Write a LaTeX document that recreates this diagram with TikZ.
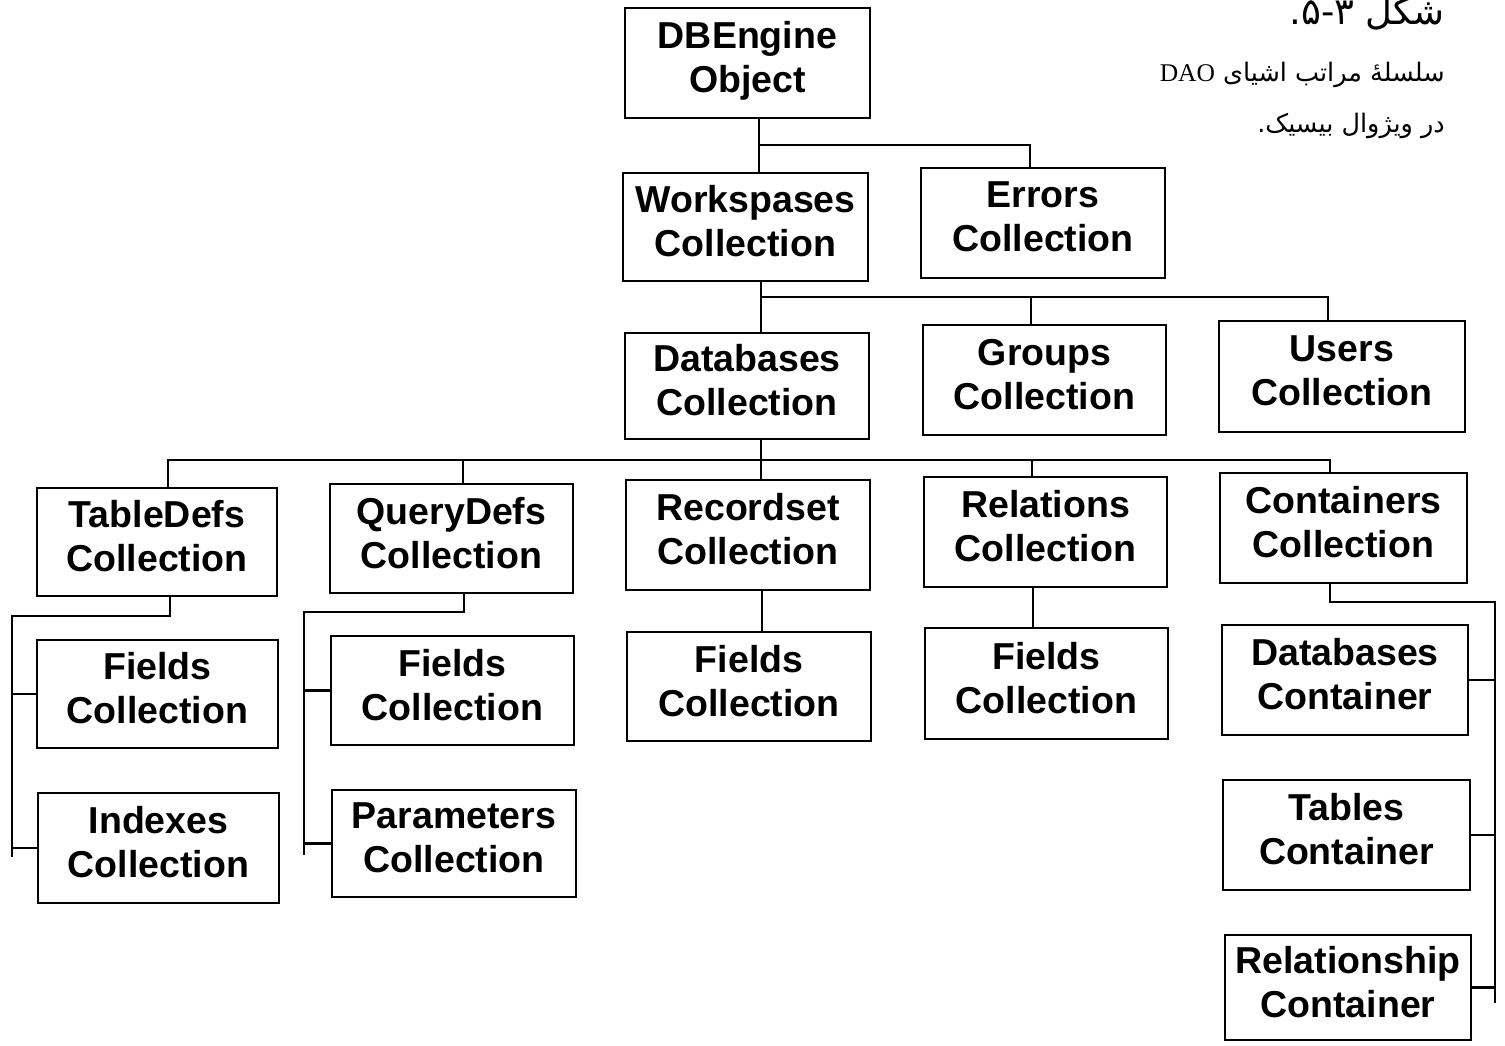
\documentclass[tikz,border=0pt]{standalone}
\usepackage{fontspec}
\setmainfont{Liberation Sans}
\newfontfamily\farsi[Script=Arabic]{DejaVu Sans}
\newfontfamily\latinserif{Liberation Serif}
\TeXXeTstate=1
\begin{document}
\begin{tikzpicture}[x=1pt,y=-1pt,
  box/.style={draw,line width=2.6pt,inner sep=0pt,align=center,text depth=12pt,
    font=\fontsize{37.5}{44}\selectfont\bfseries},
  conn/.style={line width=2.6pt},
  fa/.style={anchor=base east,inner sep=0pt}]
\useasboundingbox (0,0) rectangle (1505,1045);

% level 1-3
\node[box,minimum width=245pt,minimum height=110pt] (dbe) at (747.5,63) {DBEngine\\Object};
\node[box,minimum width=245pt,minimum height=108pt] (ws) at (745.5,227) {Workspases\\Collection};
\node[box,minimum width=244pt,minimum height=110pt] (err) at (1043,223) {Errors\\Collection};
\node[box,minimum width=244pt,minimum height=106pt] (db) at (747,386) {Databases\\Collection};
\node[box,minimum width=243pt,minimum height=110pt] (grp) at (1044.5,380) {Groups\\Collection};
\node[box,minimum width=246pt,minimum height=111pt] (usr) at (1342,376.5) {Users\\Collection};

% level 4
\node[box,minimum width=240pt,minimum height=108pt] (td) at (157,542) {TableDefs\\Collection};
\node[box,minimum width=243pt,minimum height=109pt] (qd) at (451.5,538.5) {QueryDefs\\Collection};
\node[box,minimum width=244pt,minimum height=110pt] (rs) at (748,535) {Recordset\\Collection};
\node[box,minimum width=243pt,minimum height=110pt] (rel) at (1045.5,532) {Relations\\Collection};
\node[box,minimum width=247pt,minimum height=110pt] (cont) at (1343.5,528) {Containers\\Collection};

% level 5+
\node[box,minimum width=241pt,minimum height=108pt] (f1) at (157.5,694) {Fields\\Collection};
\node[box,minimum width=241pt,minimum height=110pt] (idx) at (158.5,848) {Indexes\\Collection};
\node[box,minimum width=243pt,minimum height=109pt] (f2) at (452.5,690.5) {Fields\\Collection};
\node[box,minimum width=244pt,minimum height=107pt] (par) at (454,843.5) {Parameters\\Collection};
\node[box,minimum width=244pt,minimum height=109pt] (f3) at (749,686.5) {Fields\\Collection};
\node[box,minimum width=243pt,minimum height=111pt] (f4) at (1046.5,683.5) {Fields\\Collection};
\node[box,minimum width=246pt,minimum height=110pt] (dbc) at (1345,680) {Databases\\Container};
\node[box,minimum width=247pt,minimum height=110pt] (tbc) at (1346.5,835) {Tables\\Container};
\node[box,minimum width=246pt,minimum height=105pt] (rlc) at (1348,987.5) {Relationship\\Container};

% connectors: DBEngine
\coordinate (j1) at (759,145);
\coordinate (j1r) at (1030,145);
\draw[conn] (j1 |- dbe.south) -- (j1 |- ws.north);
\draw[conn] (j1) -- (j1r) -- (j1r |- err.north);

% Workspaces
\coordinate (j2) at (761,297);
\coordinate (j2m) at (1031,297);
\coordinate (j2r) at (1328,297);
\draw[conn] (j2 |- ws.south) -- (j2 |- db.north);
\draw[conn] (j2) -- (j2r) -- (j2r |- usr.north);
\draw[conn] (j2m) -- (j2m |- grp.north);

% Databases
\coordinate (j3) at (761,460);
\coordinate (j3a) at (168,460);
\coordinate (j3b) at (463,460);
\coordinate (j3d) at (1032,460);
\coordinate (j3e) at (1330,460);
\draw[conn] (j3 |- db.south) -- (j3 |- rs.north);
\draw[conn] (j3a |- td.north) -- (j3a) -- (j3e) -- (j3e |- cont.north);
\draw[conn] (j3b) -- (j3b |- qd.north);
\draw[conn] (j3d) -- (j3d |- rel.north);

% TableDefs
\coordinate (k1) at (170,616);
\coordinate (k1l) at (12,616);
\coordinate (k1e) at (12,857);
\draw[conn] (k1 |- td.south) -- (k1) -- (k1l) -- (k1e);
\draw[conn] (k1l |- f1.west) -- (f1.west);
\draw[conn] (k1l |- idx.west) -- (idx.west);

% QueryDefs
\coordinate (k2) at (464,612);
\coordinate (k2l) at (304,612);
\coordinate (k2e) at (304,855);
\draw[conn] (k2 |- qd.south) -- (k2) -- (k2l) -- (k2e);
\draw[conn] (k2l |- f2.west) -- (f2.west);
\draw[conn] (k2l |- par.west) -- (par.west);

% Recordset, Relations
\coordinate (k3) at (762,610);
\draw[conn] (k3 |- rs.south) -- (k3 |- f3.north);
\coordinate (k4) at (1033,610);
\draw[conn] (k4 |- rel.south) -- (k4 |- f4.north);

% Containers
\coordinate (k5) at (1330,602);
\coordinate (k5r) at (1495,602);
\coordinate (k5e) at (1495,1003);
\draw[conn] (k5 |- cont.south) -- (k5) -- (k5r) -- (k5e);
\draw[conn] (dbc.east) -- (k5r |- dbc.east);
\draw[conn] (tbc.east) -- (k5r |- tbc.east);
\draw[conn] (rlc.east) -- (k5r |- rlc.east);

% caption
\node[fa,font=\farsi\fontsize{37}{40}\selectfont] (title) at (1445,24)
  {\hbox{.}\hbox{۵}\hbox{-}\hbox{۳}\hspace{0.3em}\hbox{\beginR شکل\endR}};
\node[fa,font=\farsi\fontsize{25.5}{30}\selectfont] (cap1) at (1445,81) {\beginR سلسلهٔ مراتب اشیای \beginL{\latinserif DAO}\endL\endR};
\node[fa,font=\farsi\fontsize{25.5}{30}\selectfont] (cap2) at (1445,132) {\beginR در ویژوال بیسیک.\endR};
\end{tikzpicture}
\end{document}
